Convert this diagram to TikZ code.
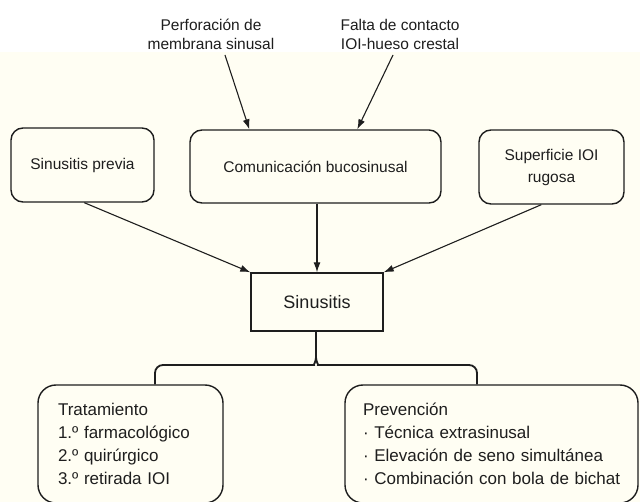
\documentclass[tikz,border=0pt]{standalone}
\usepackage{fontspec}
\setmainfont{Liberation Sans}
\usetikzlibrary{arrows.meta,calc}
\definecolor{cream}{RGB}{255,254,243}
\definecolor{ink}{RGB}{30,30,30}
\begin{document}
\begin{tikzpicture}[x=1pt,y=-1pt,
  lbl/.style={align=center,inner sep=0pt,text=ink,font=\fontsize{15.5}{19}\selectfont},
  rbox/.style={draw=ink,line width=1.4pt,rounded corners=12pt,align=center,text=ink,
     font=\fontsize{15.5}{22}\selectfont,inner sep=0pt},
  sbox/.style={draw=ink,line width=1.4pt,align=center,text=ink,font=\fontsize{18}{22}\selectfont,inner sep=0pt},
  bbox/.style={draw=ink,line width=1.4pt,rounded corners=18pt,align=left,text=ink,
     font=\fontsize{17}{23}\selectfont,inner ysep=0pt},
  arr/.style={draw=ink,line width=1.1pt,-{Latex[length=10pt,width=7pt]}},
  brc/.style={draw=ink,line width=1.8pt}]
\useasboundingbox (0,0) rectangle (640,502);
\clip (0,0) rectangle (640,502);
\fill[white] (0,0) rectangle (640,52);
\fill[cream] (0,52) rectangle (640,502);

\node[lbl] (perf) at (211,34) {Perforación de\\membrana sinusal};
\node[lbl] (falta) at (400,34) {Falta de contacto\\IOI-hueso crestal};

\node[rbox,minimum width=143pt,minimum height=74pt] (prev) at (82.5,165) {Sinusitis previa};
\node[rbox,minimum width=251pt,minimum height=73pt] (com) at (315.5,166.5) {Comunicación bucosinusal};
\node[rbox,minimum width=145pt,minimum height=74pt] (sup) at (551.5,167) {Superficie IOI\\rugosa};

\node[sbox,minimum width=132pt,minimum height=58pt] (sin) at (317,302) {Sinusitis};

\node[bbox,minimum width=185pt,minimum height=118pt,text width=145pt,inner xsep=20pt] (trat) at (130.5,444)
  {Tratamiento\\1.º farmacológico\\2.º quirúrgico\\3.º retirada IOI};
\node[bbox,minimum width=293pt,minimum height=118pt,text width=257pt,inner xsep=18pt] (prevn) at (491.5,444)
  {Prevención\\\mbox{· Técnica extrasinusal}\\\mbox{· Elevación de seno simultánea}\\\mbox{· Combinación con bola de bichat}};

\coordinate (p1) at (225,55);
\coordinate (f1) at (393,55);
\draw[arr] (p1) -- ($(com.north west)+(60,0)$);
\draw[arr] (f1) -- ($(com.north west)+(168,0)$);
\draw[arr] ($(prev.south west)+(74,0)$) -- (sin.north west);
\draw[arr] (com.south -| sin.north) -- (sin.north);
\draw[arr] ($(sup.south west)+(63,0)$) -- (sin.north east);

\coordinate (tip) at (316,356);
\coordinate (bl) at (155,365);
\coordinate (br) at (477,365);
\draw[brc] (sin.south -| tip) -- (tip);
\draw[brc,rounded corners=8pt] (tip) .. controls (316,363) and (313,365) .. (306,365) -- (bl) -- (bl |- trat.north);
\draw[brc,rounded corners=8pt] (tip) .. controls (316,363) and (319,365) .. (326,365) -- (br) -- (br |- prevn.north);
\end{tikzpicture}
\end{document}
